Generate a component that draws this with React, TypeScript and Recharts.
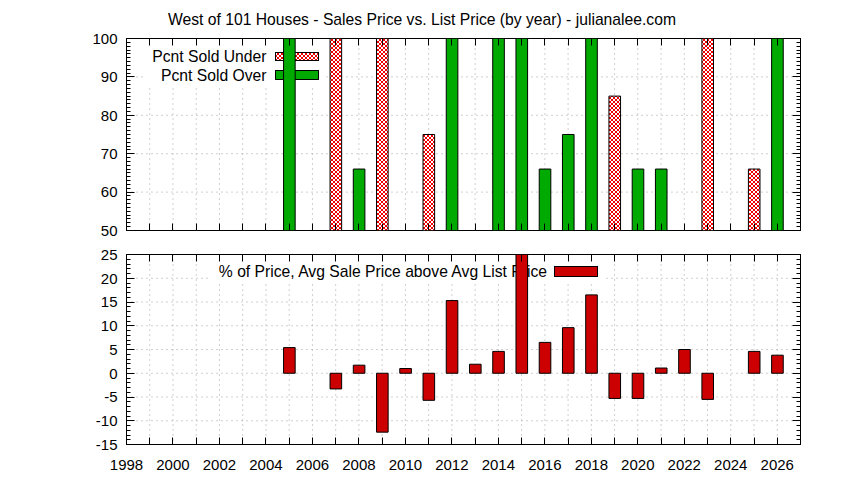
import React from "react";
import { BarChart, Bar, Cell, XAxis, YAxis, CartesianGrid } from "recharts";

// sale year of each bar
const years = [2005, 2006, 2007, 2008, 2009, 2010, 2011, 2012, 2013, 2014, 2015,
  2016, 2017, 2018, 2019, 2020, 2021, 2022, 2023, 2024, 2025, 2026];

// % of houses sold under / over list price (one of them per year)
const soldUnder = [null, null, 100, null, 100, null, 75, null, null, null, null,
  null, null, null, 85, null, null, null, 100, null, 66, null];
const soldOver = [100, null, null, 66, null, null, null, 100, null, 100, 100,
  66, 75, 100, null, 66, 66, null, null, null, null, 100];

// avg sale price above avg list price, in %
const aboveList = [5.4, null, -3.3, 1.7, -12.4, 1.0, -5.7, 15.3, 1.9, 4.6, 25,
  6.5, 9.6, 16.5, -5.3, -5.3, 1.1, 5.0, -5.5, null, 4.6, 3.8];

const yearLabels = [1998, 2000, 2002, 2004, 2006, 2008, 2010, 2012, 2014, 2016,
  2018, 2020, 2022, 2024, 2026];
const pctTicks = [50, 60, 70, 80, 90, 100];
const diffTicks = [-15, -10, -5, 0, 5, 10, 15, 20, 25];

const range = (a: number, b: number) => Array.from({ length: b - a + 1 }, (_, i) => a + i);
const yearTicks = range(1998, 2026);

const topData = years.map((year, i) => ({
  year,
  pct: soldUnder[i] ?? soldOver[i],
  under: soldUnder[i] != null,
}));
const bottomData = years.map((year, i) => ({ year, diff: aboveList[i] }));

const FONT = "'Liberation Sans', Arial, sans-serif";
const tickFont = { fill: "#000", fontSize: 15, fontFamily: FONT };
const textFont = { fill: "#000", fontSize: 15.7, fontFamily: FONT };
const X_DOMAIN: [number, number] = [1998, 2027];
const BAR = 11.6;
const GREEN = "#00aa00";
const RED = "#cc0000";

// plot box edges (same for both panels, y is local to each chart)
const L = 126.5;
const R = 800.5;
const TOP_H = 192;
const BOT_H = 190;
const crisp = (v: number) => Math.round(v - 0.5) + 0.5;

// gnuplot style: ticks point inward, mirrored on the opposite side
function xTick(p: any, top: number, bottom: number, labels: boolean) {
  const v = p.payload.value;
  const x = crisp(p.x);
  return (
    <g>
      <line x1={x} x2={x} y1={bottom - 7} y2={bottom} stroke="#000" />
      <line x1={x} x2={x} y1={top} y2={top + 7} stroke="#000" />
      {labels && yearLabels.includes(v) && (
        <text x={p.x} y={p.y} dy="0.71em" textAnchor="middle" {...tickFont}>{v}</text>
      )}
    </g>
  );
}

// y tick marks (major + unit minor ticks) on the left and right border
function yFrameTicks(top: number, height: number, min: number, max: number, step: number) {
  const ppu = height / (max - min);
  return (
    <g>
      {range(min, max).map((v) => {
        const y = crisp(top + (max - v) * ppu);
        const len = (v - min) % step === 0 ? 8 : 4;
        return (
          <g key={v}>
            <line x1={L} x2={L + len} y1={y} y2={y} stroke="#000" />
            <line x1={R - len} x2={R} y1={y} y2={y} stroke="#000" />
          </g>
        );
      })}
    </g>
  );
}

export default function App() {
  return (
    <div style={{ position: "absolute", left: 0, top: 0, width: 844, height: 480, background: "#fff" }}>
      <svg width={844} height={40} style={{ position: "absolute", left: 0, top: 0 }}>
        <defs>
          <pattern id="hatch" width={4} height={4} patternUnits="userSpaceOnUse">
            <rect width={4} height={4} fill="#fff" />
            <path d="M0,0L4,4M4,0L0,4" stroke="#ee0000" strokeWidth={1} />
          </pattern>
        </defs>
        <text x={422} y={25} textAnchor="middle" {...textFont}>
          West of 101 Houses - Sales Price vs. List Price (by year) - julianalee.com
        </text>
      </svg>

      <div style={{ position: "absolute", left: 0, top: 0 }}>
        <BarChart width={844} height={240} data={topData}
          margin={{ top: 38.5, right: 43.5, bottom: 0, left: 0 }}>
          <CartesianGrid xAxisId="x" yAxisId="y" stroke="#a0a0a0" strokeDasharray="1 4" />
          <XAxis xAxisId="x" type="number" dataKey="year" domain={X_DOMAIN} allowDataOverflow
            ticks={yearTicks} interval={0} height={9.5} tickLine={false} axisLine={false}
            tickSize={0} tick={(p: any) => xTick(p, 38.5, 230.5, false)} />
          <YAxis yAxisId="y" type="number" domain={[50, 100]} allowDataOverflow ticks={pctTicks}
            interval={0} width={L} tickLine={false} axisLine={false} tickSize={0} tickMargin={9}
            tick={tickFont} />
          <g>
            <rect x={146} y={39} width={178} height={46} fill="#fff" />
            <text x={266.5} y={56.5} textAnchor="end" dominantBaseline="central" {...textFont}>
              Pcnt Sold Under
            </text>
            <rect x={275.5} y={52.5} width={43} height={8} fill="url(#hatch)" stroke="#000" />
            <text x={266.5} y={75} textAnchor="end" dominantBaseline="central" {...textFont}>
              Pcnt Sold Over
            </text>
            <rect x={275.5} y={70.5} width={43} height={9} fill={GREEN} stroke="#000" />
            {yFrameTicks(38.5, TOP_H, 50, 100, 10)}
            <rect x={L} y={38.5} width={R - L} height={TOP_H} fill="none" stroke="#000" />
          </g>
          <Bar xAxisId="x" yAxisId="y" dataKey="pct" barSize={BAR} stroke="#000" strokeWidth={1}
            isAnimationActive={false}>
            {topData.map((d) => (
              <Cell key={d.year} fill={d.under ? "url(#hatch)" : GREEN} />
            ))}
          </Bar>
        </BarChart>
      </div>

      <div style={{ position: "absolute", left: 0, top: 240 }}>
        <BarChart width={844} height={240} data={bottomData}
          margin={{ top: 14.5, right: 43.5, bottom: 0, left: 0 }}>
          <CartesianGrid xAxisId="x" yAxisId="y" stroke="#a0a0a0" strokeDasharray="1 4" />
          <XAxis xAxisId="x" type="number" dataKey="year" domain={X_DOMAIN} allowDataOverflow
            ticks={yearTicks} interval={0} height={35.5} tickLine={false} axisLine={false}
            tickSize={0} tickMargin={15} tick={(p: any) => xTick(p, 14.5, 204.5, true)} />
          <YAxis yAxisId="y" type="number" domain={[-15, 25]} allowDataOverflow ticks={diffTicks}
            interval={0} width={L} tickLine={false} axisLine={false} tickSize={0} tickMargin={9}
            tick={tickFont} />
          <g>
            <rect x={210} y={15} width={395} height={26} fill="#fff" />
            <text x={547} y={31.7} textAnchor="end" dominantBaseline="central" {...textFont}>
              % of Price, Avg Sale Price above Avg List Price
            </text>
            <rect x={554.5} y={26.5} width={43} height={10} fill={RED} stroke="#000" />
            {yFrameTicks(14.5, BOT_H, -15, 25, 5)}
            <rect x={L} y={14.5} width={R - L} height={BOT_H} fill="none" stroke="#000" />
          </g>
          <Bar xAxisId="x" yAxisId="y" dataKey="diff" barSize={BAR} fill={RED} stroke="#000"
            strokeWidth={1} isAnimationActive={false} />
        </BarChart>
      </div>
    </div>
  );
}
